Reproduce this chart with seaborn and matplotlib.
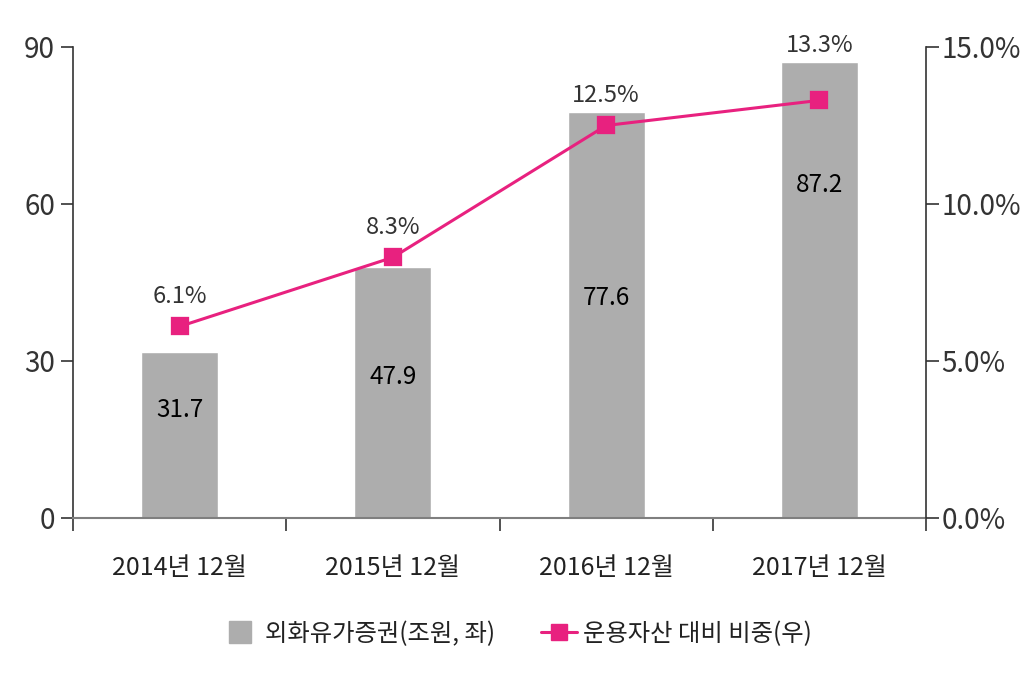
"""
외화유가증권 잔액과 운용자산 대비 비중 (2014~2017년 12월)
"""

import pandas as pd
import matplotlib.pyplot as plt
import seaborn as sns

sns.set_style("white")
plt.rcParams["font.family"] = ["Noto Sans CJK KR", "DejaVu Sans"]

PERIODS = ["2014년 12월", "2015년 12월", "2016년 12월", "2017년 12월"]
SECURITIES = [31.7, 47.9, 77.6, 87.2]      # 조원, left axis
SHARE_PCT = [6.1, 8.3, 12.5, 13.3]         # %, right axis

BAR_LABEL_Y = [20.6, 26.9, 42.0, 63.6]     # where the value sits inside each bar
PCT_LABEL_OFFSET = [13, 13, 13, 31]        # points above each marker
BAR_COLOR = "#ADADAD"
LINE_COLOR = "#E8217F"
SPINE_COLOR = "#333333"

df = pd.DataFrame({"period": PERIODS, "securities": SECURITIES, "share": SHARE_PCT})

fig = plt.figure(figsize=(10.24, 6.83), dpi=100)
ax = fig.add_axes([0.0713, 0.2416, 0.8330, 0.6896])

sns.barplot(data=df, x="period", y="securities", order=PERIODS, color=BAR_COLOR,
            width=0.36, saturation=1, ax=ax)
for i, (v, y) in enumerate(zip(SECURITIES, BAR_LABEL_Y)):
    ax.text(i, y, f"{v:.1f}", ha="center", va="center", fontsize=17.5,
            color="#000000")

ax.set_xlim(-0.5, len(PERIODS) - 0.5)
ax.set_ylim(0, 90)
ax.set_yticks([0, 30, 60, 90])
ax.set_xlabel("")
ax.set_ylabel("")

# category boundaries get the tick marks, labels sit in the middle
ax.set_xticks([i + 0.5 for i in range(-1, len(PERIODS))], minor=False)
ax.set_xticklabels([])
ax.set_xticks(range(len(PERIODS)), minor=True)
ax.set_xticklabels(PERIODS, minor=True)
ax.tick_params(axis="x", which="major", bottom=True, direction="out", length=9,
               width=1.2, color=SPINE_COLOR)
ax.tick_params(axis="x", which="minor", bottom=True, length=0, pad=27, labelsize=18,
               labelcolor="#222222")
ax.tick_params(axis="y", left=True, direction="out", length=9, width=1.2,
               color=SPINE_COLOR, labelsize=20, labelcolor="#333333", pad=4)

for side in ["top", "right"]:
    ax.spines[side].set_visible(False)
ax.spines["left"].set_color(SPINE_COLOR)
ax.spines["left"].set_linewidth(1.2)
ax.spines["bottom"].set_color("#7F7F7F")
ax.spines["bottom"].set_linewidth(1.5)

ax2 = ax.twinx()
sns.pointplot(data=df, x="period", y="share", order=PERIODS, color=LINE_COLOR,
              markers="s", markersize=11, linewidth=2.2, ax=ax2)
for i, (v, off) in enumerate(zip(SHARE_PCT, PCT_LABEL_OFFSET)):
    ax2.annotate(f"{v:.1f}%", (i, v), xytext=(0, off), textcoords="offset points",
                 ha="center", va="bottom", fontsize=17, color="#333333")

ax2.set_xlim(-0.5, len(PERIODS) - 0.5)
ax2.set_ylim(0, 15)
ax2.set_yticks([0, 5, 10, 15])
ax2.set_yticklabels(["0.0%", "5.0%", "10.0%", "15.0%"])
ax2.set_ylabel("")
ax2.tick_params(axis="y", right=True, direction="out", length=9, width=1.2,
                color=SPINE_COLOR, labelsize=20, labelcolor="#333333", pad=2)
for side in ["top", "left", "bottom"]:
    ax2.spines[side].set_visible(False)
ax2.spines["right"].set_visible(True)
ax2.spines["right"].set_color(SPINE_COLOR)
ax2.spines["right"].set_linewidth(1.2)

handles = [
    plt.Line2D([], [], color=BAR_COLOR, marker="s", markersize=16, linestyle="none"),
    plt.Line2D([], [], color=LINE_COLOR, marker="s", markersize=11, linewidth=2.2),
]
fig.legend(handles, ["외화유가증권(조원, 좌)", "운용자산 대비 비중(우)"],
           loc="center", bbox_to_anchor=(0.505, 0.072), ncol=2, frameon=False,
           fontsize=17.5, handlelength=1.5, handleheight=0.9, columnspacing=1.9,
           handletextpad=0.25, labelcolor="#222222")

fig.savefig("out.png", dpi=100)
